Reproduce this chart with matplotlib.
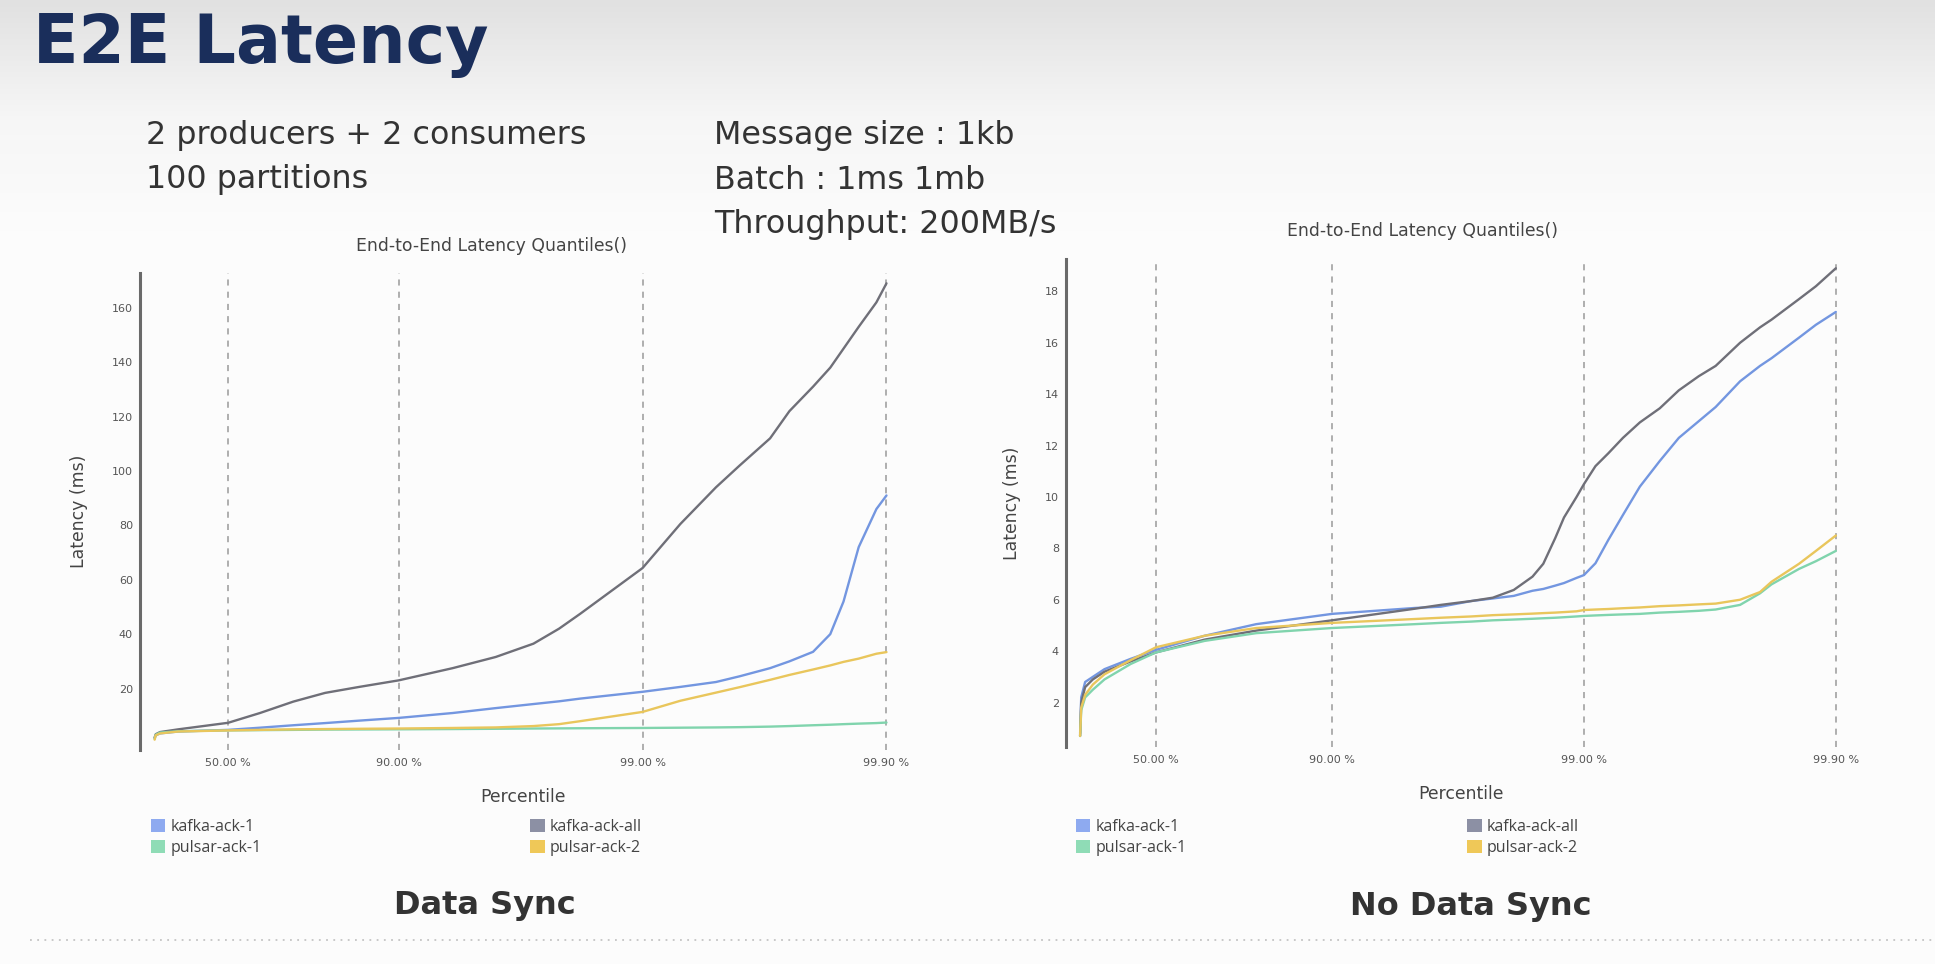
import numpy as np
import matplotlib
matplotlib.use("Agg")
import matplotlib.pyplot as plt
from matplotlib.patches import Patch
from matplotlib.lines import Line2D
from matplotlib.colors import LinearSegmentedColormap

# ---------------- data ----------------
series_names = ["kafka-ack-1", "kafka-ack-all", "pulsar-ack-1", "pulsar-ack-2"]
line_colors = ["#7396e0", "#6f6f78", "#80d4ad", "#e9c65c"]
legend_colors = ["#8eaaf0", "#8c90a4", "#8fdcb6", "#efc858"]

# Data Sync chart (left)
sync_pct = [0, 1, 5, 20, 50, 63, 73, 80, 85.5, 90, 94, 96, 97.2, 97.8, 98.2, 99, 99.3,
            99.5, 99.6, 99.7, 99.75, 99.8, 99.83, 99.85, 99.87, 99.89, 99.9]
sync_kafka_ack_1 = [1.8, 2.8, 3.5, 4.2, 4.8, 5.6, 6.5, 7.3, 8.2, 9.2, 11, 12.8, 14.3, 15.3,
                    16.3, 18.8, 20.6, 22.4, 24.5, 27.5, 30, 33.5, 40, 52, 72, 86, 91]
sync_kafka_ack_all = [2.0, 3.2, 4.0, 5.0, 7.4, 11, 15.2, 18.4, 20.6, 23, 27.5, 31.6, 36.5,
                      42, 47.5, 64.3, 80.5, 94, 102, 112, 122, 131, 138, 145, 153, 162, 169]
sync_pulsar_ack_1 = [1.5, 3.0, 3.8, 4.3, 4.6, 4.7, 4.8, 4.9, 4.95, 5.0, 5.1, 5.2, 5.3, 5.35,
                     5.4, 5.5, 5.6, 5.7, 5.8, 6.0, 6.2, 6.5, 6.7, 6.9, 7.1, 7.3, 7.5]
sync_pulsar_ack_2 = [1.2, 2.8, 3.5, 4.2, 4.6, 4.8, 5.0, 5.1, 5.2, 5.3, 5.5, 5.7, 6.2, 6.9,
                     8.0, 11.4, 15.5, 18.5, 20.5, 23.2, 25, 27, 28.5, 29.8, 31, 32.8, 33.4]

# No Data Sync chart (right)
nosync_pct = [0, 1, 4.5, 11, 20, 37, 50, 68, 80, 90, 95.3, 96.3, 97.2, 97.7, 98.1, 98.4,
              98.55, 98.7, 98.8, 98.93, 99, 99.1, 99.2, 99.3, 99.4, 99.5, 99.58, 99.65,
              99.7, 99.76, 99.8, 99.82, 99.86, 99.88, 99.9]
nosync_kafka_ack_1 = [0.8, 2.2, 2.8, 3.0, 3.3, 3.7, 4.05, 4.6, 5.05, 5.45, 5.68, 5.73, 5.95,
                      6.05, 6.15, 6.35, 6.42, 6.55, 6.65, 6.85, 6.96, 7.42, 8.33, 9.3, 10.4,
                      11.4, 12.3, 12.95, 13.5, 14.5, 15.1, 15.4, 16.2, 16.7, 17.2]
nosync_kafka_ack_all = [0.7, 2.0, 2.6, 2.9, 3.2, 3.6, 3.95, 4.45, 4.8, 5.2, 5.65, 5.8, 5.95,
                        6.08, 6.38, 6.9, 7.4, 8.4, 9.2, 10.0, 10.5, 11.2, 11.7, 12.3, 12.9,
                        13.45, 14.15, 14.7, 15.1, 16.0, 16.6, 16.9, 17.7, 18.2, 18.9]
nosync_pulsar_ack_1 = [0.7, 1.7, 2.2, 2.5, 2.9, 3.5, 3.95, 4.4, 4.7, 4.9, 5.05, 5.1, 5.15,
                       5.2, 5.23, 5.26, 5.28, 5.3, 5.32, 5.35, 5.37, 5.39, 5.41, 5.43, 5.45,
                       5.5, 5.53, 5.57, 5.62, 5.8, 6.25, 6.6, 7.2, 7.5, 7.9]
nosync_pulsar_ack_2 = [0.7, 1.8, 2.3, 2.7, 3.1, 3.65, 4.15, 4.6, 4.9, 5.1, 5.25, 5.3, 5.35,
                       5.4, 5.43, 5.46, 5.48, 5.5, 5.52, 5.55, 5.6, 5.62, 5.64, 5.67, 5.7,
                       5.75, 5.78, 5.82, 5.85, 6.0, 6.3, 6.7, 7.4, 7.9, 8.5]

x_ticks = [50, 90, 99, 99.9]
x_tick_labels = ["50.00 %", "90.00 %", "99.00 %", "99.90 %"]
sync_yticks = [20, 40, 60, 80, 100, 120, 140, 160]
nosync_yticks = [2, 4, 6, 8, 10, 12, 14, 16, 18]


def fwd(p):
    p = np.asarray(p, dtype=float)
    return -np.log10(np.clip(1.0 - p / 100.0, 1e-9, None))


def inv(v):
    v = np.asarray(v, dtype=float)
    return 100.0 * (1.0 - 10.0 ** (-v))


W, H = 1935, 964
fig = plt.figure(figsize=(W / 100, H / 100), dpi=100)
fig.patch.set_facecolor("#fcfcfc")

# slide background gradient
bg = fig.add_axes([0, 0, 1, 1], zorder=-10)
bg.axis("off")
grad = np.linspace(0, 1, H).reshape(-1, 1)
grad = np.clip(grad / 0.24, 0, 1)
cmap = LinearSegmentedColormap.from_list("bg", ["#e1e1e1", "#f6f6f6", "#fcfcfc"])
bg.imshow(grad, cmap=cmap, aspect="auto", extent=[0, 1, 0, 1], origin="upper")
bg.set_xlim(0, 1)
bg.set_ylim(0, 1)


def fx(px):
    return px / W


def fy(py):
    return 1 - py / H


def draw(rect, pct, series, ylim, yticks, xlim_log):
    ax = fig.add_axes(rect)
    ax.set_facecolor("none")
    ax.set_xscale("function", functions=(fwd, inv))
    for vals, c in zip(series, line_colors):
        ax.plot(pct, vals, color=c, lw=1.7, solid_capstyle="round",
                solid_joinstyle="round", zorder=3)
    ax.set_xlim(inv(xlim_log[0]), inv(xlim_log[1]))
    ax.set_ylim(*ylim)
    ax.set_xticks(x_ticks)
    ax.set_xticklabels(x_tick_labels)
    ax.set_yticks(yticks)
    ax.minorticks_off()
    ax.grid(axis="x", color="#9a9a9a", linestyle=(0, (4, 4)), lw=1.1)
    ax.grid(axis="y", visible=False)
    for s in ["top", "right", "bottom"]:
        ax.spines[s].set_visible(False)
    ax.spines["left"].set_color("#6a6a6a")
    ax.spines["left"].set_linewidth(2.2)
    ax.tick_params(axis="both", length=0, labelsize=8, colors="#555555")
    ax.tick_params(axis="x", pad=6)
    ax.tick_params(axis="y", pad=5)
    ax.set_xlabel("Percentile", fontsize=12.4, color="#444444", labelpad=14)
    ax.set_ylabel("Latency (ms)", fontsize=12.4, color="#444444", labelpad=17)
    return ax


ax1 = draw([fx(140), fy(750), fx(766), (750 - 273) / H], sync_pct,
           [sync_kafka_ack_1, sync_kafka_ack_all, sync_pulsar_ack_1, sync_pulsar_ack_2],
           (-2.6, 172.8), sync_yticks, (-0.06, 3.08))
ax2 = draw([fx(1066), fy(747), fx(790), (747 - 259) / H], nosync_pct,
           [nosync_kafka_ack_1, nosync_kafka_ack_all, nosync_pulsar_ack_1, nosync_pulsar_ack_2],
           (0.27, 19.26), nosync_yticks, (-0.056, 3.08))

# chart titles
fig.text(fx(491), fy(246), "End-to-End Latency Quantiles()", fontsize=12.4,
         color="#444444", ha="center", va="center")
fig.text(fx(1422), fy(231), "End-to-End Latency Quantiles()", fontsize=12.4,
         color="#444444", ha="center", va="center")

# legends
order = [0, 2, 1, 3]
handles = [Patch(facecolor=legend_colors[i], edgecolor="none", label=series_names[i]) for i in order]
for xpos, cs in [(151, 16.85), (1076, 17.6)]:
    fig.legend(handles=handles, loc="upper left", bbox_to_anchor=(fx(xpos), fy(819)),
               ncol=2, frameon=False, borderpad=0, borderaxespad=0,
               handlelength=0.9, handleheight=0.85, handletextpad=0.3,
               labelspacing=0.3, columnspacing=cs,
               prop={"family": "Open Sans", "size": 11.5}, labelcolor="#444444")

# slide texts
fig.text(fx(33), fy(63), "E2E Latency", fontsize=48, fontweight="bold",
         color="#1a2e5b", ha="left", va="baseline", family="DejaVu Sans")
txt_kw = dict(fontsize=22.9, color="#333333", ha="left", va="baseline", family="DejaVu Sans")
fig.text(fx(146), fy(144), "2 producers + 2 consumers", **txt_kw)
fig.text(fx(146), fy(188), "100 partitions", **txt_kw)
fig.text(fx(714), fy(144), "Message size : 1kb", **txt_kw)
fig.text(fx(714), fy(189), "Batch : 1ms 1mb", **txt_kw)
fig.text(fx(714), fy(233), "Throughput: 200MB/s", **txt_kw)

fig.text(fx(485), fy(914), "Data Sync", fontsize=23, fontweight="bold", color="#333333",
         ha="center", va="baseline", family="DejaVu Sans")
fig.text(fx(1471), fy(915), "No Data Sync", fontsize=23, fontweight="bold", color="#333333",
         ha="center", va="baseline", family="DejaVu Sans")

# dotted separator
fig.add_artist(Line2D([fx(30), 1.0], [fy(940), fy(940)], transform=fig.transFigure,
                      color="#c4c4c4", lw=1.3, linestyle=(0, (1, 3))))

fig.savefig("out.png", dpi=100, facecolor=fig.get_facecolor())
